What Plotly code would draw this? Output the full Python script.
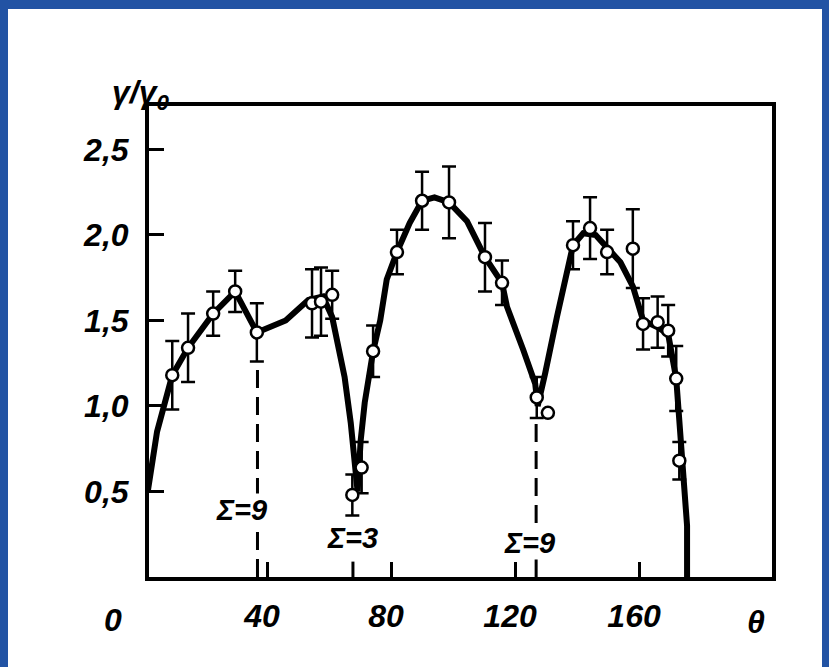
import plotly.graph_objects as go

# ---- data ----
theta_pts = [9.4, 14.5, 22.6, 29.7, 36.7, 54.5, 57.4, 61.0, 67.5, 70.5, 74.2, 81.9, 90.0, 98.7,
             110.3, 115.8, 127.0, 130.6, 138.7, 144.2, 149.7, 158.0, 161.3, 166.0, 169.4, 172.0, 173.0]
gamma_pts = [1.18, 1.34, 1.54, 1.67, 1.43, 1.60, 1.61, 1.65, 0.48, 0.64, 1.32, 1.90, 2.20, 2.19,
             1.87, 1.72, 1.05, 0.96, 1.94, 2.04, 1.90, 1.92, 1.48, 1.49, 1.44, 1.16, 0.68]
gamma_err = [0.20, 0.20, 0.13, 0.12, 0.17, 0.20, 0.20, 0.14, 0.12, 0.15, 0.15, 0.13, 0.17, 0.21,
             0.20, 0.13, 0.12, 0.0, 0.14, 0.18, 0.13, 0.23, 0.15, 0.15, 0.15, 0.19, 0.11]

curve_theta = [1.5, 4.5, 9.4, 14.5, 22.6, 29.7, 36.7, 46.0, 53.3, 58.0, 61.0, 63.0, 65.0, 67.0,
               68.3, 69.2, 70.2, 71.5, 74.2, 76.5, 78.6, 81.9, 86.0, 90.0, 94.0, 98.7, 104.5,
               110.3, 115.8, 117.4, 122.6, 126.5, 127.3, 128.5, 129.7, 133.5, 136.8, 138.7, 142.0,
               146.0, 150.0, 154.0, 158.0, 161.3, 166.0, 169.4, 172.0, 173.0, 174.5, 175.5, 175.5]
curve_gamma = [0.50, 0.85, 1.18, 1.34, 1.54, 1.67, 1.43, 1.50, 1.62, 1.64, 1.52, 1.35, 1.17, 0.90,
               0.70, 0.50, 0.80, 1.02, 1.32, 1.50, 1.74, 1.90, 2.07, 2.20, 2.22, 2.19, 2.08,
               1.87, 1.72, 1.58, 1.33, 1.13, 1.00, 1.08, 1.19, 1.52, 1.80, 1.94, 2.01,
               2.00, 1.92, 1.84, 1.70, 1.50, 1.46, 1.42, 1.16, 0.90, 0.55, 0.30, 0.0]

x_tickvals = [40, 80, 120, 160]
x_ticktext = ["40", "80", "120", "160"]
y_tickvals = [0.5, 1.0, 1.5, 2.0, 2.5]
y_ticktext = ["0,5", "1,0", "1,5", "2,0", "2,5"]

sigma_theta = [36.9, 126.8]          # dashed boundary lines
sigma_top = [1.24, 0.94]
sigma3_tick = 67.7                   # short mark for Σ=3
sigma_labels = ["Σ=9", "Σ=3", "Σ=9"]
sigma_label_theta = [31.9, 67.4, 124.8]
sigma_label_gamma = [0.39, 0.23, 0.20]

# ---- figure ----
W, H = 829, 667
L, R, T, B = 149, 57, 106, 90
pw, ph = W - L - R, H - T - B

def px2paper(px, py):
    return (px - L) / pw, (H - B - py) / ph

fig = go.Figure()

fig.add_trace(go.Scatter(x=curve_theta, y=curve_gamma, mode="lines",
                         line=dict(color="black", width=6), hoverinfo="skip"))

for xs, yt in zip(sigma_theta, sigma_top):
    fig.add_trace(go.Scatter(x=[xs, xs], y=[0, yt], mode="lines",
                             line=dict(color="black", width=3, dash="18px,9px"), hoverinfo="skip"))

fig.add_trace(go.Scatter(x=[sigma3_tick, sigma3_tick], y=[0, 0.09], mode="lines",
                         line=dict(color="black", width=3), hoverinfo="skip"))

fig.add_trace(go.Scatter(
    x=theta_pts, y=gamma_pts, mode="markers",
    marker=dict(symbol="circle", size=12, color="white", line=dict(color="black", width=2.5)),
    error_y=dict(type="data", array=gamma_err, visible=True, color="black", thickness=2.5, width=7),
))

font_it = dict(family="Liberation Sans", size=32, color="black", style="italic", weight="bold")

for t, xs, ys in zip(sigma_labels, sigma_label_theta, sigma_label_gamma):
    fig.add_annotation(x=xs, y=ys, xref="x", yref="y", text=t, showarrow=False,
                       xanchor="center", yanchor="middle",
                       font=dict(family="Liberation Sans", size=29, color="black", style="italic", weight="bold"),
                       bgcolor="white", borderpad=0)

ax, ay = px2paper(140, 94)
fig.add_annotation(x=ax, y=ay, xref="paper", yref="paper", text="γ/γ<sub>0</sub>",
                   xanchor="center", yanchor="middle", showarrow=False, font=font_it)
zx, zy = px2paper(113, 620)
fig.add_annotation(x=zx, y=zy, xref="paper", yref="paper", text="0",
                   xanchor="center", yanchor="middle", showarrow=False, font=font_it)
tx, ty = px2paper(756, 622)
fig.add_annotation(x=tx, y=ty, xref="paper", yref="paper", text="θ",
                   xanchor="center", yanchor="middle", showarrow=False, font=font_it)

# white scanned page on a blue frame
blue = "#2253a4"
a0, b0 = px2paper(8, H + 20)
a1, b1 = px2paper(W - 7, 9)
fig.add_shape(type="rect", xref="paper", yref="paper", x0=a0, x1=a1, y0=b0, y1=b1,
              fillcolor="white", line=dict(width=0), layer="below")

fig.update_layout(
    width=W, height=H,
    margin=dict(l=L, r=R, t=T, b=B),
    paper_bgcolor=blue, plot_bgcolor="white",
    showlegend=False,
    xaxis=dict(range=[1.9, 202.9], showgrid=False, zeroline=False,
               showline=True, linecolor="black", linewidth=4, mirror=True,
               ticks="inside", ticklen=15, tickwidth=3, tickcolor="black",
               tickvals=x_tickvals, ticktext=x_ticktext, tickfont=font_it,
               ticklabelstandoff=8, ticklabelshift=-5),
    yaxis=dict(range=[0, 2.754], showgrid=False, zeroline=False,
               showline=True, linecolor="black", linewidth=4, mirror=True,
               ticks="inside", ticklen=15, tickwidth=3, tickcolor="black",
               tickvals=y_tickvals, ticktext=y_ticktext, tickfont=font_it,
               ticklabelstandoff=10),
)

fig.write_html("out.html", config={"displayModeBar": False},
               post_script="document.body.style.margin='0';document.body.style.overflow='hidden';"
                           "document.body.style.background='" + blue + "';")
